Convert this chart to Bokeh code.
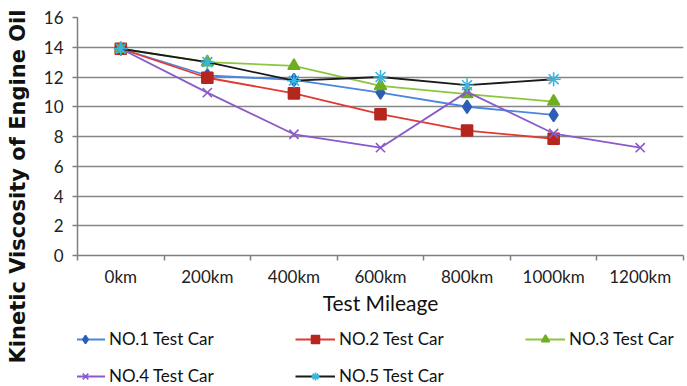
from bokeh.plotting import figure
from bokeh.layouts import row, column
from bokeh.models import FixedTicker, Legend, LegendItem, Range1d
from bokeh.embed import file_html
from bokeh.resources import INLINE

# Test mileage checkpoints and kinematic viscosity readings per car
mileage = ["0km", "200km", "400km", "600km", "800km", "1000km", "1200km"]
car1 = [13.9, 12.1, 11.8, 10.95, 10.0, 9.45]
car2 = [13.9, 11.95, 10.9, 9.5, 8.4, 7.85]
car3 = [13.9, 13.0, 12.75, 11.4, 10.85, 10.35]
car4 = [13.9, 10.95, 8.15, 7.25, 11.0, 8.2, 7.25]
car5 = [13.9, 13.0, 11.75, 12.0, 11.45, 11.85]
y_ticks = [0, 2, 4, 6, 8, 10, 12, 14, 16]

FONT = "Lato"
AXIS_GREY = "#7f7f7f"

series = [
    ("NO.1 Test Car", car1, "#4a86e0", "diamond", "#2f5db5", "#2f5db5", 13),
    ("NO.2 Test Car", car2, "#e03a33", "square", "#b5261e", "#b5261e", 11),
    ("NO.3 Test Car", car3, "#8cc63f", "triangle", "#6fae20", "#6fae20", 12),
    ("NO.4 Test Car", car4, "#8a5bc8", "x", None, "#8a5bc8", 13),
    ("NO.5 Test Car", car5, "#1a1a1a", "asterisk", None, "#36b6e0", 14),
]
centers = [i + 0.5 for i in range(len(mileage))]


def draw_series(fig):
    """Draw every car's line + markers on fig; return legend items."""
    items = []
    for label, vals, lc, marker, fill, mline, size in series:
        xs = centers[:len(vals)]
        r_line = fig.line(xs, vals, line_color=lc, line_width=1.8)
        r_mark = fig.scatter(xs, vals, marker=marker, size=size,
                             fill_color=fill, line_color=mline, line_width=1.6)
        items.append(LegendItem(label=label, renderers=[r_line, r_mark]))
    return items


# ---- narrow strip carrying the vertical axis title ----
ylab = figure(width=32, height=386, output_backend="svg", toolbar_location=None,
              x_range=Range1d(0, 1), y_range=Range1d(0, 1),
              x_axis_location=None, y_axis_location="left",
              min_border_left=29, min_border_right=0,
              min_border_top=12, min_border_bottom=26)
ylab.outline_line_color = None
ylab.grid.visible = False
la = ylab.yaxis[0]
la.ticker = FixedTicker(ticks=[])
la.axis_line_color = None
la.major_tick_line_color = None
la.minor_tick_line_color = None
la.major_tick_out = 0
la.major_label_standoff = 0
la.axis_label = "Kinetic Viscosity of Engine Oil"
la.axis_label_standoff = 0
la.axis_label_text_font = "DejaVu Sans"
la.axis_label_text_font_size = "21px"
la.axis_label_text_font_style = "bold"
la.axis_label_text_color = "#111111"

# ---- main chart ----
p = figure(width=655, height=318, output_backend="svg", toolbar_location=None,
           x_range=Range1d(0, len(mileage)), y_range=Range1d(0, 16),
           min_border_left=45, min_border_right=4, min_border_top=17,
           min_border_bottom=63)
p.outline_line_color = None

p.xgrid.grid_line_color = None
p.ygrid.ticker = FixedTicker(ticks=y_ticks)
p.ygrid.grid_line_color = "#868686"
p.ygrid.grid_line_width = 1.6

# category axis: labels centred in each slot, tick marks on slot boundaries
xa = p.xaxis[0]
xa.ticker = FixedTicker(ticks=centers, minor_ticks=list(range(len(mileage) + 1)))
xa.major_label_overrides = {c: m for c, m in zip(centers, mileage)}
xa.major_tick_line_color = None
xa.major_tick_out = 5
xa.major_tick_in = 0
xa.minor_tick_out = 5
xa.minor_tick_in = 0
xa.minor_tick_line_color = AXIS_GREY
xa.minor_tick_line_width = 1.5
xa.axis_line_color = AXIS_GREY
xa.axis_line_width = 1.5
xa.major_label_standoff = 5
xa.major_label_text_font = FONT
xa.major_label_text_font_size = "17px"
xa.major_label_text_color = "#222222"
xa.axis_label = "Test Mileage"
xa.axis_label_text_font = FONT
xa.axis_label_text_font_size = "21px"
xa.axis_label_text_font_style = "normal"
xa.axis_label_text_color = "#111111"
xa.axis_label_standoff = 0

ya = p.yaxis[0]
ya.ticker = FixedTicker(ticks=y_ticks)
ya.minor_tick_line_color = None
ya.major_tick_out = 5
ya.major_tick_in = 0
ya.major_tick_line_color = AXIS_GREY
ya.major_tick_line_width = 1.5
ya.axis_line_color = AXIS_GREY
ya.axis_line_width = 1.5
ya.major_label_standoff = 9
ya.major_label_text_font = FONT
ya.major_label_text_font_size = "17px"
ya.major_label_text_color = "#222222"

draw_series(p)

# ---- legend strip: same series, view window kept away from the data ----
leg = figure(width=655, height=68, output_backend="svg", toolbar_location=None,
             x_range=Range1d(100, 101), y_range=Range1d(100, 101),
             x_axis_location=None, y_axis_location=None, min_border=0)
leg.outline_line_color = None
leg.grid.visible = False
legend = Legend(items=draw_series(leg), orientation="horizontal", ncols=3,
                location=(-12, 0), padding=0, margin=0, spacing=16,
                glyph_width=40, glyph_height=20, label_standoff=4,
                label_width=170, label_height=20,
                label_text_font=FONT, label_text_font_size="17px",
                label_text_color="#111111",
                border_line_color=None, background_fill_alpha=0)
leg.add_layout(legend, "center")

layout = row(ylab, column(p, leg))
open("out.html", "w").write(file_html(layout, INLINE))
